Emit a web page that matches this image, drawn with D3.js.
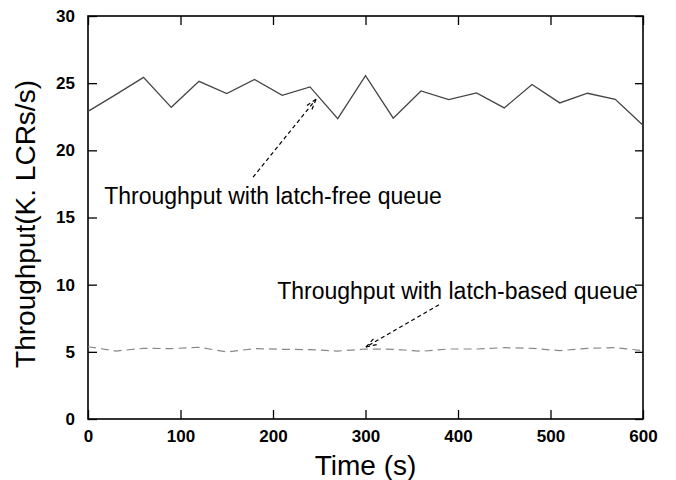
<!DOCTYPE html>
<html>
<head>
<meta charset="utf-8">
<script src="https://cdn.jsdelivr.net/npm/d3@7"></script>
<style>
  body { margin: 0; background: #fff; }
  svg { display: block; font-family: "Liberation Sans", Arial, sans-serif; }
  .tick text { font-weight: bold; font-size: 17px; fill: #000; }
  .tick line { stroke: #000; stroke-width: 1.3; }
</style>
</head>
<body>
<svg width="676" height="480"></svg>
<script>
(function () {
  const times = [0, 30, 60, 90, 120, 150, 180, 210, 240, 270, 300, 330, 360, 390, 420, 450, 480, 510, 540, 570, 600];
  const latchFree = [22.9, 24.15, 25.43, 23.2, 25.14, 24.22, 25.27, 24.1, 24.72, 22.36, 25.56, 22.39, 24.42, 23.78, 24.27, 23.16, 24.9, 23.53, 24.25, 23.8, 21.87];
  const latchBased = [5.38, 5.06, 5.26, 5.24, 5.34, 4.99, 5.24, 5.19, 5.16, 5.06, 5.21, 5.19, 5.04, 5.21, 5.21, 5.31, 5.26, 5.09, 5.26, 5.31, 5.09];
  const xTicks = [0, 100, 200, 300, 400, 500, 600];
  const yTicks = [0, 5, 10, 15, 20, 25, 30];

  // annotation text + arrow, in data units
  const notes = [
    { text: "Throughput with latch-free queue", tx: 17.5, ty: 16.0, from: [178.4, 18.0], to: [246.5, 23.8] },
    { text: "Throughput with latch-based queue", tx: 204.5, ty: 8.9, from: [379.5, 8.5], to: [300.5, 5.36] }
  ];

  const margin = { left: 88, top: 16, right: 33, bottom: 61 };
  const width = 676 - margin.left - margin.right;
  const height = 480 - margin.top - margin.bottom;

  const svg = d3.select("svg");
  const chart = svg.append("g")
    .attr("transform", `translate(${margin.left}, ${margin.top})`);

  const xScale = d3.scaleLinear().domain([0, 600]).range([0, width]);
  const yScale = d3.scaleLinear().domain([0, 30]).range([height, 0]);

  // gnuplot style: ticks point inward on all four sides
  chart.append("g")
    .attr("transform", `translate(0, ${height})`)
    .call(d3.axisBottom(xScale).tickValues(xTicks).tickSizeInner(-9).tickSizeOuter(0).tickPadding(11))
  chart.append("g")
    .call(d3.axisLeft(yScale).tickValues(yTicks).tickSizeInner(-9).tickSizeOuter(0).tickPadding(13))
  chart.append("g")
    .call(d3.axisTop(xScale).tickValues(xTicks).tickSizeInner(-9).tickSizeOuter(0).tickFormat(""))
  chart.append("g")
    .attr("transform", `translate(${width}, 0)`)
    .call(d3.axisRight(yScale).tickValues(yTicks).tickSizeInner(-8).tickSizeOuter(0).tickFormat(""))
  chart.selectAll(".domain").remove();

  chart.append("rect")
    .attr("width", width)
    .attr("height", height)
    .attr("fill", "none")
    .attr("stroke", "#000")
    .attr("stroke-width", 1.6);

  const line = d3.line()
    .x((d, i) => xScale(times[i]))
    .y((d) => yScale(d));

  chart.append("path")
    .datum(latchFree)
    .attr("d", line)
    .attr("fill", "none")
    .attr("stroke", "#444")
    .attr("stroke-width", 1.3);

  chart.append("path")
    .datum(latchBased)
    .attr("d", line)
    .attr("fill", "none")
    .attr("stroke", "#888")
    .attr("stroke-width", 1.2)
    .attr("stroke-dasharray", "8,5");

  notes.forEach((n) => {
    const x1 = xScale(n.from[0]), y1 = yScale(n.from[1]);
    const x2 = xScale(n.to[0]), y2 = yScale(n.to[1]);
    const a = Math.atan2(y2 - y1, x2 - x1);
    const len = 11, spread = 0.3;
    const head = [a + Math.PI - spread, a + Math.PI + spread]
      .map((t) => [x2 + len * Math.cos(t), y2 + len * Math.sin(t)]);
    const g = chart.append("g")
      .attr("fill", "none")
      .attr("stroke", "#000")
      .attr("stroke-width", 1.2)
      .attr("stroke-dasharray", "4,3");
    g.append("line").attr("x1", x1).attr("y1", y1).attr("x2", x2).attr("y2", y2);
    head.forEach((p) => {
      g.append("line").attr("x1", x2).attr("y1", y2).attr("x2", p[0]).attr("y2", p[1]);
    });
    chart.append("text")
      .attr("x", xScale(n.tx))
      .attr("y", yScale(n.ty))
      .attr("font-size", 23)
      .text(n.text);
  });

  svg.append("text")
    .attr("x", margin.left + width / 2)
    .attr("y", 475)
    .attr("text-anchor", "middle")
    .attr("font-size", 28)
    .text("Time (s)");

  svg.append("text")
    .attr("transform", "translate(35, 224) rotate(-90)")
    .attr("text-anchor", "middle")
    .attr("font-size", 28)
    .text("Throughput(K. LCRs/s)");
})()
</script>
</body>
</html>
